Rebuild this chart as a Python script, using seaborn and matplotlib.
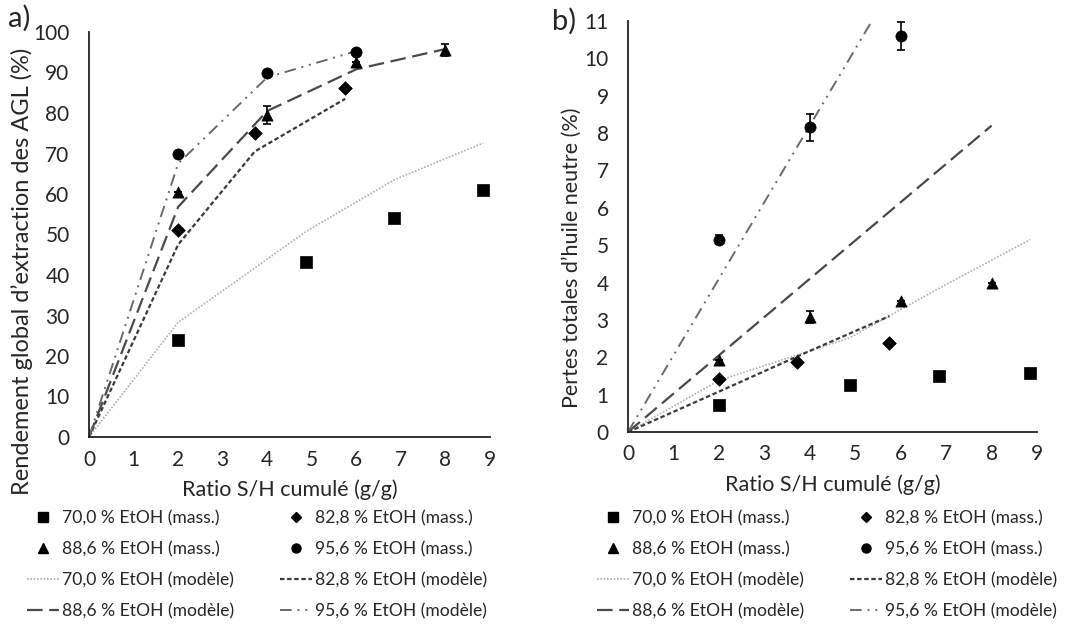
import numpy as np
import pandas as pd
import matplotlib
matplotlib.use("Agg")
import matplotlib.pyplot as plt
from matplotlib.lines import Line2D
import seaborn as sns

sns.set_style("white")
plt.rcParams['font.family'] = ['Lato', 'DejaVu Sans']

# ---------------- data ----------------
series = ["70,0", "82,8", "88,6", "95,6"]
markers = ["s", "D", "^", "o"]

# panel a : Rendement global d'extraction des AGL (%)
a_x70 = [2.0, 4.88, 6.85, 8.85];  a_y70 = [24.0, 43.3, 54.1, 61.0]
a_x82 = [2.0, 3.72, 5.75];        a_y82 = [51.2, 75.0, 86.2]
a_x88 = [2.0, 4.0, 6.0, 8.0];     a_y88 = [60.5, 79.5, 92.5, 95.5]
a_e88 = [0.0, 2.2, 0.0, 1.5]
a_x95 = [2.0, 4.0, 6.0];          a_y95 = [70.0, 90.0, 95.0]

a_mx70 = [0, 2.0, 4.88, 6.85, 8.85]; a_my70 = [0, 28.3, 50.8, 63.5, 72.6]
a_mx82 = [0, 2.0, 3.72, 5.75];       a_my82 = [0, 47.5, 70.5, 83.5]
a_mx88 = [0, 2.0, 4.0, 6.0, 8.0];    a_my88 = [0, 56.8, 80.5, 90.8, 95.8]
a_mx95 = [0, 2.0, 4.0, 6.0];         a_my95 = [0, 67.5, 88.8, 95.3]

# panel b : Pertes totales d'huile neutre (%)
b_x70 = [2.0, 4.88, 6.85, 8.85];  b_y70 = [0.72, 1.25, 1.50, 1.58]
b_x82 = [2.0, 3.72, 5.75];        b_y82 = [1.42, 1.88, 2.38]
b_x88 = [2.0, 4.0, 6.0, 8.0];     b_y88 = [1.92, 3.08, 3.50, 4.00]
b_e88 = [0.0, 0.17, 0.0, 0.0]
b_x95 = [2.0, 4.0, 6.0];          b_y95 = [5.15, 8.15, 10.6]
b_e95 = [0.12, 0.35, 0.38]

b_mx70 = [0, 2.0, 4.88, 6.85, 8.85]; b_my70 = [0, 1.38, 2.52, 3.85, 5.15]
b_mx82 = [0, 2.0, 3.72, 5.75];       b_my82 = [0, 1.08, 2.02, 3.10]
b_mx88 = [0, 2.0, 4.0, 6.0, 8.0];    b_my88 = [0, 2.05, 4.1, 6.15, 8.2]
b_mx95 = [0, 2.0, 4.0, 6.0];         b_my95 = [0, 4.1, 8.2, 12.3]

xticks = list(range(10))

# ---------------- styles ----------------
model_styles = [
    dict(color="#b0b0b0", lw=1.2, ls=(0, (1, 1))),
    dict(color="#3a3a3a", lw=1.6, ls=(0, (2, 1.2))),
    dict(color="#4a4a4a", lw=1.6, ls=(0, (7, 3))),
    dict(color="#6a6a6a", lw=1.4, ls=(0, (6, 3, 1, 3, 1, 3))),
]
text_col = "#262626"

fig = plt.figure(figsize=(10.65, 6.25), dpi=100)
axA = fig.add_axes([89/1065, 1-437/625, 401/1065, 405/625])
axB = fig.add_axes([628/1065, 1-432/625, 409/1065, 411/625])

def draw(ax, pts, errs, models, ylim, yticks):
    for (mx, my), st in zip(models, model_styles):
        sns.lineplot(x=mx, y=my, ax=ax, color=st["color"], linewidth=st["lw"],
                     linestyle=st["ls"], sort=False, estimator=None)
    for (px, py), m in zip(pts, markers):
        sns.scatterplot(x=px, y=py, ax=ax, marker=m, color="black",
                        s=65 if m != "D" else 48, edgecolor="black", linewidth=0.5, zorder=5)
    for px, py, pe in errs:
        ax.errorbar(px, py, yerr=pe, fmt="none", ecolor="black", elinewidth=1.2,
                    capsize=3, capthick=1.2, zorder=4)
    ax.set_xlim(0, 9)
    ax.set_ylim(*ylim)
    ax.set_xticks(xticks)
    ax.set_yticks(yticks)
    for s in ["top", "right"]:
        ax.spines[s].set_visible(False)
    for s in ["left", "bottom"]:
        ax.spines[s].set_color("#222222")
        ax.spines[s].set_linewidth(1.3)
    ax.tick_params(axis="x", direction="in", length=6, width=1.2, color="#222222",
                   labelsize=15, labelcolor=text_col, pad=9)
    ax.tick_params(axis="y", direction="out", length=5, width=1.2, color="#222222",
                   labelsize=15, labelcolor=text_col, pad=9)
    ax.set_xlabel("Ratio S/H cumulé (g/g)", fontsize=15.5, color=text_col, labelpad=7)

draw(axA,
     [(a_x70, a_y70), (a_x82, a_y82), (a_x88, a_y88), (a_x95, a_y95)],
     [(a_x88, a_y88, a_e88)],
     [(a_mx70, a_my70), (a_mx82, a_my82), (a_mx88, a_my88), (a_mx95, a_my95)],
     (0, 100), list(range(0, 101, 10)))
draw(axB,
     [(b_x70, b_y70), (b_x82, b_y82), (b_x88, b_y88), (b_x95, b_y95)],
     [(b_x88, b_y88, b_e88), (b_x95, b_y95, b_e95)],
     [(b_mx70, b_my70), (b_mx82, b_my82), (b_mx88, b_my88), (b_mx95, b_my95)],
     (0, 11), list(range(0, 12)))

axA.set_ylabel("Rendement global d’extraction des AGL (%)", fontsize=17, color=text_col)
axA.yaxis.set_label_coords(-0.14, 0.41)
axB.set_ylabel("Pertes totales d’huile neutre (%)", fontsize=15.5, color=text_col)
axB.yaxis.set_label_coords(-0.112, 0.423)

fig.text(8/1065, 1-18/625, "a)", fontsize=21, color=text_col, va="center")
fig.text(552/1065, 1-21/625, "b)", fontsize=21, color=text_col, va="center")

# legends
mass_h = [Line2D([], [], ls="none", marker=m, color="black", markersize=6.5 if m != "D" else 5.5)
          for m in markers]
model_h = [Line2D([], [], color=st["color"], lw=st["lw"], ls=st["ls"]) for st in model_styles]
mass_l = [f"{s} % EtOH (mass.)" for s in series]
model_l = [f"{s} % EtOH (modèle)" for s in series]
handles = [mass_h[0], mass_h[2], model_h[0], model_h[2],
           mass_h[1], mass_h[3], model_h[1], model_h[3]]
labels = [mass_l[0], mass_l[2], model_l[0], model_l[2],
          mass_l[1], mass_l[3], model_l[1], model_l[3]]

for x0 in (27, 597):
    leg = fig.legend(handles, labels, ncol=2, loc="upper left",
                     bbox_to_anchor=(x0/1065, 1-510/625), frameon=False,
                     fontsize=12.6, handlelength=1.85, handletextpad=0.15,
                     columnspacing=2.6, labelspacing=0.85, borderaxespad=0, borderpad=0)
    for t in leg.get_texts():
        t.set_color(text_col)

fig.savefig("out.png", dpi=100)
